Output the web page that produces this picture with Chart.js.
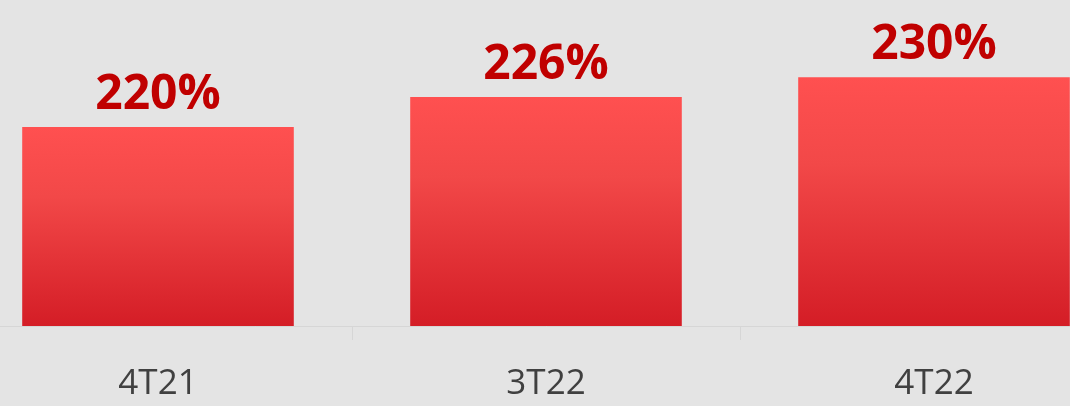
<!DOCTYPE html>
<html>
<head>
<meta charset="utf-8">
<script src="https://cdn.jsdelivr.net/npm/chart.js@4.4.1/dist/chart.umd.min.js"></script>
<style>
  html, body { margin: 0; padding: 0; width: 1070px; height: 406px; overflow: hidden; background: #e4e4e4; }
  #wrap { position: absolute; left: -36px; top: 0; width: 1164px; height: 406px; }
</style>
</head>
<body>
<div id="wrap"><canvas id="chart"></canvas></div>
<script>
/* ===== Data ===== */
const categories = ['4T21', '3T22', '4T22'];
const ratioValues = [220, 226, 230];
const valueLabels = ['220%', '226%', '230%'];

/* ===== Per-bar vertical gradient ===== */
function barGradient(context) {
    const chart = context.chart;
    if (!chart.chartArea) return '#f04040';
    const y = chart.scales.y;
    const top = y.getPixelForValue(context.raw);
    const bottom = y.getPixelForValue(y.min);
    const g = chart.ctx.createLinearGradient(0, top, 0, bottom);
    g.addColorStop(0, '#ff5050');
    g.addColorStop(0.35, '#f24848');
    g.addColorStop(1, '#d41d26');
    return g;
}

/* ===== Value labels above bars ===== */
const valueLabelPlugin = {
    id: 'valueLabels',
    afterDatasetsDraw(chart) {
        const ctx = chart.ctx;
        const meta = chart.getDatasetMeta(0);
        ctx.save();
        ctx.font = 'bold 48px "Open Sans"';
        ctx.fillStyle = '#c00000';
        ctx.textAlign = 'center';
        ctx.textBaseline = 'alphabetic';
        meta.data.forEach((bar, i) => {
            ctx.fillText(valueLabels[i], bar.x, bar.y - 18);
        });
        ctx.restore();
    }
};

new Chart(document.getElementById('chart'), {
    type: 'bar',
    data: {
        labels: categories,
        datasets: [{
            data: ratioValues,
            backgroundColor: barGradient,
            borderWidth: 0,
            categoryPercentage: 1,
            barPercentage: 0.70
        }]
    },
    options: {
        responsive: true,
        maintainAspectRatio: false,
        animation: false,
        layout: { padding: 0 },
        plugins: {
            legend: { display: false },
            tooltip: { enabled: false }
        },
        scales: {
            x: {
                afterFit(scale) { scale.height = 80; },
                grid: {
                    drawOnChartArea: false,
                    drawTicks: true,
                    tickLength: 14,
                    color: '#d6d6d6',
                    offset: true
                },
                border: { display: true, color: '#d6d6d6', width: 1 },
                ticks: {
                    padding: 23,
                    color: '#404040',
                    font: { family: '"Open Sans"', size: 35 }
                }
            },
            y: {
                display: false,
                min: 180,
                max: 245.5
            }
        }
    },
    plugins: [valueLabelPlugin]
});
</script>
</body>
</html>
